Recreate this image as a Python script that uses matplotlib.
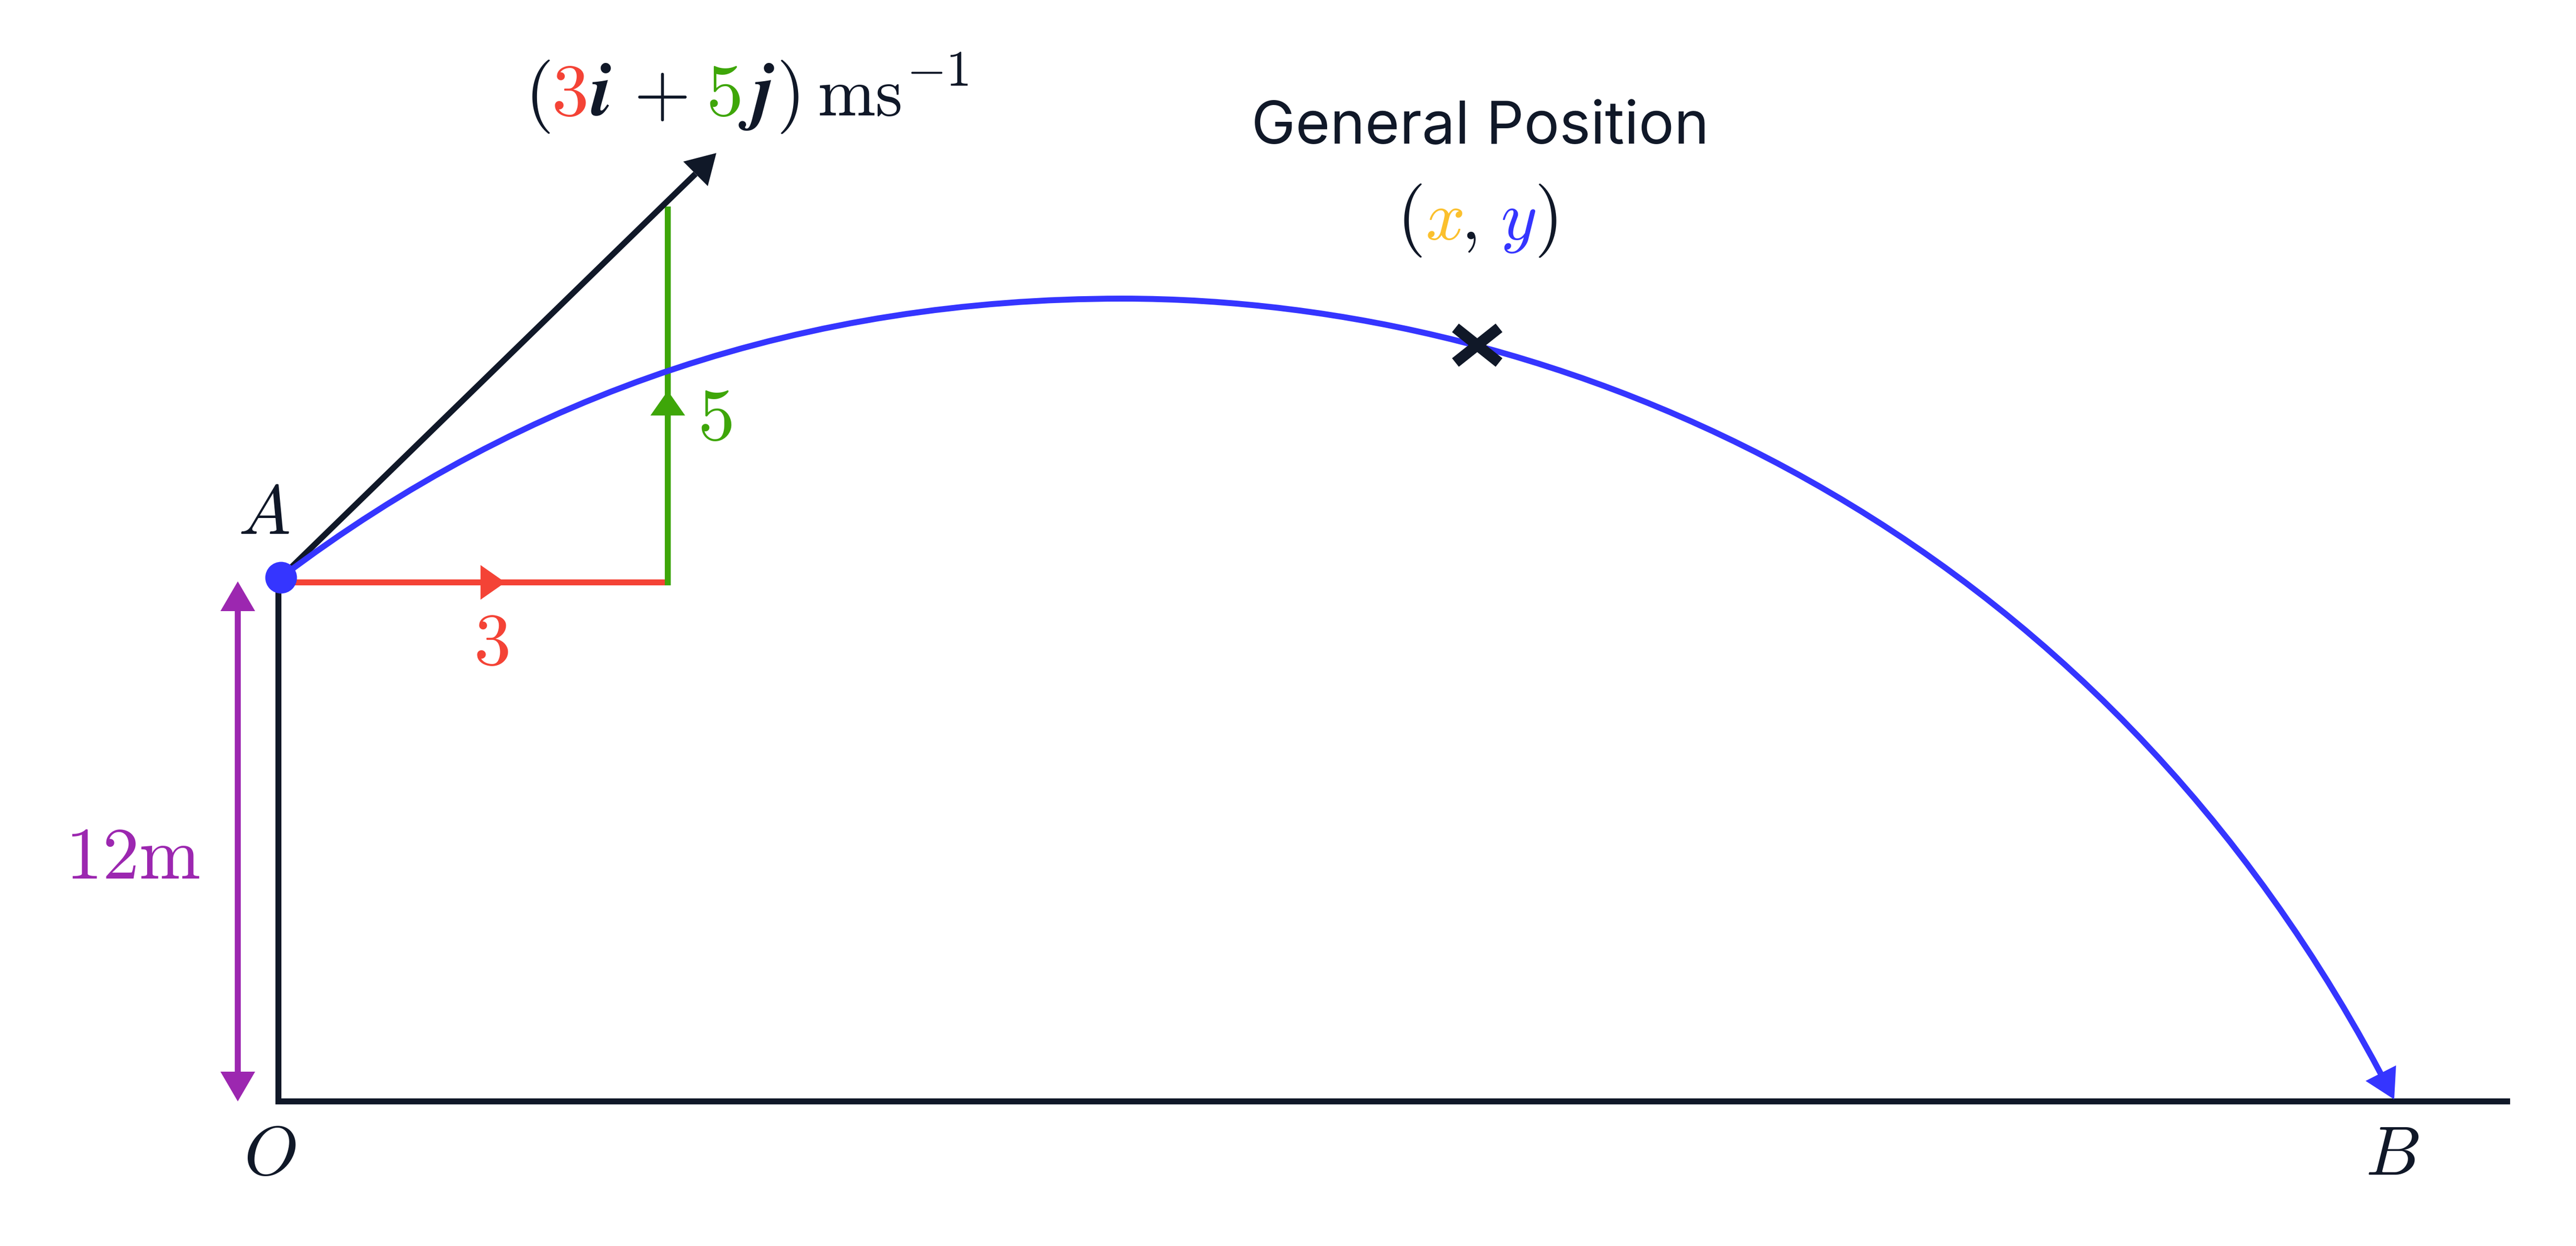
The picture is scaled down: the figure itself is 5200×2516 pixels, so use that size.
import numpy as np
import matplotlib
matplotlib.use("Agg")
import matplotlib.pyplot as plt
from matplotlib.path import Path
from matplotlib.patches import PathPatch, Rectangle

plt.rcParams['mathtext.fontset'] = 'cm'
plt.rcParams['font.family'] = ['Inter', 'DejaVu Sans']

DARK = '#101828'
RED = '#f44336'
GREEN = '#3ea609'
BLUE = '#3535ff'
PURPLE = '#9c27b0'
YELLOW = '#fbc02d'

# everything below is in reference image pixels, y going down
# flight path: start, rise control, apex, two fall controls, landing
curve_x = [567, 1312, 2265, 3140, 4233, 4833]
curve_y = [1166, 603, 603, 603, 1044, 2220]
curve_codes = [Path.MOVETO, Path.CURVE3, Path.CURVE3, Path.CURVE4, Path.CURVE4, Path.CURVE4]

axis_x = [562, 562, 5067]
axis_y = [1166, 2224, 2224]

start_x, start_y = 567, 1166
velocity_x = [567, 1404]
velocity_y = [1166, 351]
red_x = [567, 1342]
red_y = [1176, 1176]
green_x = [1348, 1348]
green_y = [1182, 417]
height_x = [480, 480]
height_y = [1234, 2164]
cross_x, cross_y = 2982, 697

PX = 72 / 100  # pixels to points at dpi 100
LW = 12 * PX


def arrow_head(ax, tip, base, width, color, z):
    tip = np.array(tip, float)
    base = np.array(base, float)
    d = tip - base
    n = np.array([-d[1], d[0]]) / np.hypot(d[0], d[1]) * width / 2
    pts = np.array([tip, base + n, base - n])
    ax.fill(pts[:, 0], pts[:, 1], color=color, lw=0, zorder=z)


def label(ax, x, y, s, color=DARK, size=101):
    ax.text(x, y, s, color=color, fontsize=size, ha='center', va='baseline', zorder=10)


fig = plt.figure(figsize=(52, 25.16), dpi=100)
ax = fig.add_axes([0, 0, 1, 1])
ax.set_xlim(0, 5200)
ax.set_ylim(2516, 0)
ax.axis('off')

ax.plot(axis_x, axis_y, color=DARK, lw=LW, solid_joinstyle='miter', solid_capstyle='butt', zorder=1)

ax.plot(red_x, red_y, color=RED, lw=LW, solid_capstyle='butt', zorder=2)
arrow_head(ax, (1020, 1176), (970, 1176), 70, RED, 2)

ax.plot(green_x, green_y, color=GREEN, lw=LW, solid_capstyle='butt', zorder=3)
arrow_head(ax, (1348, 789), (1348, 839), 70, GREEN, 3)

ax.plot(velocity_x, velocity_y, color=DARK, lw=LW, solid_capstyle='butt', zorder=4)
arrow_head(ax, (1446, 309), (1404, 351), 70, DARK, 4)

ax.plot(height_x, height_y, color=PURPLE, lw=LW, solid_capstyle='butt', zorder=2)
arrow_head(ax, (480, 1174), (480, 1234), 70, PURPLE, 2)
arrow_head(ax, (480, 2224), (480, 2164), 70, PURPLE, 2)

flight = PathPatch(Path(np.column_stack([curve_x, curve_y]), curve_codes), fc='none', ec=BLUE,
                   lw=LW, capstyle='butt', zorder=5)
ax.add_patch(flight)
# stop the line inside the arrow head so it does not poke out of the tip
flight.set_clip_path(Rectangle((0, 0), 5200, 2172, transform=ax.transData))
arrow_head(ax, (4833, 2220), (4806, 2167), 69, BLUE, 5)
ax.plot([start_x], [start_y], 'o', color=BLUE, ms=64 * PX, mew=0, zorder=6)

for sx in (-1, 1):
    ax.plot([cross_x - 44 * sx, cross_x + 44 * sx], [cross_y - 35, cross_y + 35], color=DARK,
            lw=22 * PX, solid_capstyle='butt', zorder=7)

# velocity label, one piece per colour
label(ax, 1085, 233, r'$($', size=108)
label(ax, 1148, 233, r'$3$', RED, size=108)
label(ax, 1213, 233, r'$\mathbfit{i}$', size=110)
label(ax, 1333, 233, r'$+$', size=106)
label(ax, 1460, 233, r'$5$', GREEN, size=108)
label(ax, 1528, 233, r'$\mathbfit{j}$', size=110)
label(ax, 1590, 233, r'$)$', size=108)
label(ax, 1735, 233, r'$\mathrm{ms}$')
label(ax, 1893, 173, r'$-1$', size=74)

ax.text(2988, 290, 'General Position', color=DARK, fontsize=86, ha='center', va='baseline', zorder=10)

label(ax, 2845, 483, r'$($', size=108)
label(ax, 2915, 483, r'$x$', YELLOW)
label(ax, 2964, 483, r'$,$')
label(ax, 3065, 483, r'$y$', BLUE)
label(ax, 3120, 483, r'$)$', size=108)

label(ax, 533, 1078, r'$A$')
label(ax, 545, 2372, r'$O$')
label(ax, 4829, 2372, r'$B$')
label(ax, 268, 1774, r'$\mathrm{12m}$', PURPLE, size=107)
label(ax, 991, 1342, r'$3$', RED, size=108)
label(ax, 1443, 888, r'$5$', GREEN, size=108)

fig.savefig('out.png', dpi=100, facecolor='white')
